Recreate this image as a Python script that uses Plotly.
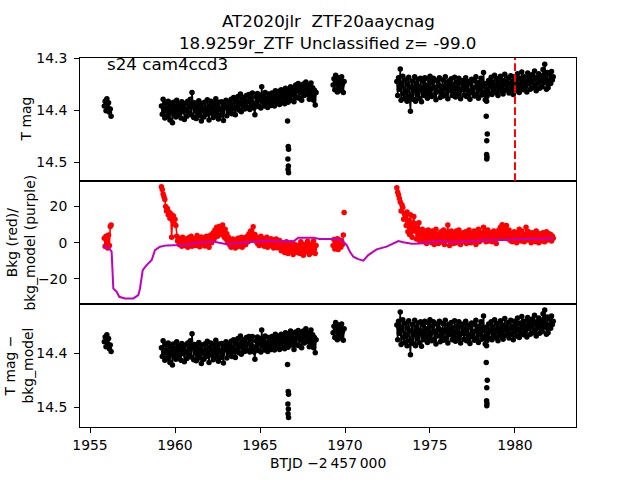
import numpy as np
import plotly.graph_objects as go
from plotly.subplots import make_subplots

# ---------------- data ----------------
CADENCE = 0.05                                   # days between samples
SEG_START = [1955.84, 1959.20, 1969.30, 1973.05]  # BTJD-2457000 start of each data segment

# Panel 1: T mag
TMAG_S0 = [14.392, 14.383, 14.401, 14.378, 14.395, 14.386, 14.404, 14.398, 14.412]
TMAG_S1 = [
    14.392, 14.408, 14.379, 14.401, 14.415, 14.386, 14.396, 14.412, 14.383, 14.404,
    14.419, 14.390, 14.399, 14.424, 14.385, 14.407, 14.393, 14.413, 14.381, 14.402,
    14.410, 14.388, 14.397, 14.415, 14.384, 14.403, 14.391, 14.418, 14.387, 14.400,
    14.412, 14.383, 14.405, 14.394, 14.379, 14.409, 14.366, 14.390, 14.414, 14.386,
    14.398, 14.416, 14.389, 14.404, 14.382, 14.411, 14.395, 14.421, 14.387, 14.400,
    14.413, 14.385, 14.396, 14.408, 14.380, 14.402, 14.419, 14.391, 14.383, 14.406,
    14.395, 14.414, 14.386, 14.401, 14.378, 14.409, 14.393, 14.417, 14.385, 14.398,
    14.410, 14.384, 14.403, 14.420, 14.389, 14.396, 14.381, 14.411, 14.392, 14.405,
    14.384, 14.401, 14.379, 14.407, 14.390, 14.376, 14.398, 14.409, 14.383, 14.395,
    14.374, 14.400, 14.387, 14.369, 14.403, 14.381, 14.392, 14.376, 14.398, 14.385,
    14.372, 14.395, 14.383, 14.370, 14.399, 14.378, 14.390, 14.367, 14.386, 14.396,
    14.409, 14.375, 14.389, 14.368, 14.393, 14.380, 14.371, 14.396, 14.355, 14.384,
    14.373, 14.392, 14.366, 14.385, 14.378, 14.395, 14.369, 14.388, 14.375, 14.391,
    14.367, 14.383, 14.374, 14.392, 14.363, 14.386, 14.371, 14.380, 14.364, 14.389,
    14.370, 14.361, 14.384, 14.373, 14.366, 14.388, 14.358, 14.379, 14.369, 14.385,
    14.362, 14.378, 14.355, 14.381, 14.368, 14.359, 14.384, 14.365, 14.352, 14.376,
    14.360, 14.349, 14.377, 14.363, 14.354, 14.381, 14.367, 14.350, 14.372, 14.358,
    14.346, 14.370, 14.361, 14.353, 14.379, 14.364, 14.348, 14.373, 14.357, 14.381,
    14.362, 14.390, 14.366]
TMAG_S2 = [14.352, 14.340, 14.361, 14.333, 14.347, 14.365, 14.338, 14.355, 14.344, 14.362,
           14.336, 14.350, 14.366, 14.345]
TMAG_S3 = [
    14.345, 14.372, 14.338, 14.360, 14.321, 14.381, 14.350, 14.335, 14.368, 14.377,
    14.342, 14.365, 14.383, 14.351, 14.337, 14.374, 14.402, 14.356, 14.344, 14.379,
    14.362, 14.336, 14.383, 14.349, 14.370, 14.341, 14.377, 14.355, 14.339, 14.384,
    14.358, 14.345, 14.372, 14.338, 14.366, 14.352, 14.377, 14.341, 14.369, 14.335,
    14.360, 14.374, 14.347, 14.339, 14.371, 14.356, 14.380, 14.343, 14.365, 14.351,
    14.338, 14.376, 14.354, 14.367, 14.342, 14.373, 14.358, 14.336, 14.369, 14.349,
    14.378, 14.344, 14.363, 14.355, 14.340, 14.372, 14.350, 14.367, 14.337, 14.375,
    14.357, 14.346, 14.370, 14.339, 14.364, 14.378, 14.348, 14.360, 14.343, 14.371,
    14.353, 14.338, 14.374, 14.362, 14.345, 14.368, 14.379, 14.350, 14.341, 14.366,
    14.357, 14.373, 14.344, 14.336, 14.369, 14.352, 14.377, 14.347, 14.362, 14.339,
    14.371, 14.355, 14.328, 14.366, 14.380, 14.349, 14.374, 14.360, 14.343, 14.368,
    14.352, 14.337, 14.370, 14.346, 14.361, 14.333, 14.366, 14.355, 14.340, 14.372,
    14.348, 14.359, 14.335, 14.364, 14.343, 14.369, 14.351, 14.331, 14.362, 14.346,
    14.357, 14.338, 14.367, 14.349, 14.334, 14.360, 14.345, 14.370, 14.336, 14.355,
    14.342, 14.363, 14.330, 14.352, 14.366, 14.339, 14.357, 14.327, 14.348, 14.361,
    14.336, 14.354, 14.344, 14.365, 14.329, 14.350, 14.338, 14.360, 14.346, 14.332,
    14.357, 14.341, 14.325, 14.352, 14.363, 14.337, 14.348, 14.330, 14.358, 14.343,
    14.334, 14.355, 14.322, 14.347, 14.312, 14.339, 14.360, 14.328, 14.357, 14.344,
    14.331, 14.349, 14.326, 14.342, 14.336]

# Panel 2: background flux (red points)
BKG_S0 = [2.5, -2.0, 3.5, 0.5, -3.0, 4.2, -1.5, 9.0, 9.8]
BKG_S1 = [
    31.0, 29.5, 27.0, 25.5, 24.0, 20.0, 17.5, 19.0, 15.5, 17.0,
    13.5, 16.0, 3.0, 12.5, 15.0, 10.5, 13.0, 9.5, 3.5, 1.0,
    1.5, -1.0, 2.5, 0.0, -2.0, 3.0, 0.5, -1.5, 2.0, -0.5,
    1.0, -2.5, 2.8, 0.5, -1.0, 3.5, -2.0, 1.2, 0.0, 2.2,
    -1.5, 1.8, 4.0, -0.5, 2.5, -2.2, 1.0, 3.2, -1.0, 0.8,
    2.6, -1.8, 0.5, 3.5, -0.8, 1.5, -2.5, 2.0, 4.2, 0.0,
    3.0, 5.5, 2.0, 7.0, 4.0, 8.5, 3.5, 6.5, 9.0, 5.0,
    8.0, 4.5, 9.8, 6.0, 3.0, 7.5, 2.0, 5.0, 0.5, 3.0,
    -1.0, 1.5, -2.5, 0.0, 2.0, -1.5, 0.8, -3.0, 1.2, -0.5,
    2.5, -2.0, 0.5, -1.0, 3.0, -2.5, 1.5, 0.0, 2.8, -1.2,
    1.0, 3.5, 0.5, 5.0, 2.0, 6.5, 1.5, 4.0, 8.9, 2.5,
    4.5, 1.0, 3.0, -0.5, 2.0, -1.5, 1.0, 3.5, -1.0, 0.5,
    2.5, -2.0, 1.0, -0.8, 3.0, -2.5, 0.0, 1.8, -1.5, 2.2,
    -0.5, 1.5, -3.0, 0.8, -1.5, 2.0, -2.8, 0.5, -1.0, 1.2,
    -2.5, -4.5, 0.0, -3.5, -1.0, -5.5, -2.0, 0.5, -4.0, -6.0,
    -1.5, -3.0, -5.0, 0.0, -2.5, -6.5, -3.5, -1.0, -4.5, -2.0,
    -5.5, -1.5, -3.0, -6.0, 0.5, -4.0, -2.5, -7.0, -1.0, -3.5,
    -5.0, -2.0, 0.8, -4.5, -6.5, -3.0, -1.0, -5.5, -2.5, 1.0,
    -3.5, -6.0, -1.5]
BKG_S2 = [-1.5, 1.8, -3.5, 0.5, -2.0, 2.2, -3.8, 0.0, 1.5, -2.5, 0.8, -1.0, 4.3]
BKG_S3 = [
    30.5, 28.0, 26.5, 24.5, 22.5, 17.5, 21.0, 19.5, 13.0, 16.0,
    15.0, 9.5, 17.0, 6.0, 12.5, 4.5, 15.5, 8.0, 3.0, 11.0,
    14.5, 6.5, 10.5, 2.0, 8.0, 4.5, 11.0, 1.0, 6.0, 3.5,
    7.5, 0.5, 5.0, 2.5, 6.5, -0.5, 4.0, 7.0, 1.5, 3.0,
    5.5, 0.0, 6.5, 2.0, -1.0, 4.5, 7.5, 1.0, 3.5, -0.5,
    5.0, 2.5, 6.0, 0.5, 3.0, 7.0, -1.0, 4.0, 1.5, 5.5,
    9.8, 2.0, -1.5, 4.5, 6.5, 0.5, 3.0, -0.5, 5.0, 2.0,
    6.5, 0.0, 3.5, 7.0, 1.5, -1.0, 4.5, 2.5, 5.5, 0.5,
    3.0, 6.0, -0.5, 4.0, 1.5, 7.0, 2.5, 0.0, 5.0, 3.5,
    1.0, 6.5, 3.0, -1.0, 4.5, 2.0, 7.5, 0.5, 3.5, 5.5,
    1.5, 4.0, 8.5, 2.5, 6.0, 0.5, 3.0, 7.0, 1.0, 4.5,
    2.0, 5.5, 0.5, 3.5, 6.5, 1.5, 4.0, -0.5, 5.0, 2.5,
    7.0, 3.0, 8.5, 4.5, 10.0, 6.0, 2.5, 8.0, 4.0, 9.5,
    5.5, 2.0, 7.0, 3.5, 1.0, 5.0, 0.5, 3.0, 6.0, 1.5,
    4.0, 0.0, 5.5, 2.0, 7.5, 3.0, 1.0, 6.5, 2.5, 4.5,
    0.5, 3.5, 8.5, 5.0, 1.5, 6.0, 2.0, 4.0, 0.0, 3.0,
    5.5, 1.5, 4.0, 0.5, 6.5, 2.5, 3.5, 0.0, 5.0, 2.0,
    4.5, 1.0, 5.5, 2.5, 0.5, 4.0, 6.0, 1.5, 3.0, 5.0,
    2.0, 4.5, 1.0, 3.5, 2.5]
BKG_OUT_T = [1969.95]          # isolated background outlier
BKG_OUT_V = [16.7]

# Panel 2: background model (purple line)
MODEL_T = [1955.75, 1956.10, 1956.27, 1956.37, 1956.57, 1956.72, 1957.06, 1957.55, 1957.84, 1957.94,
           1958.10, 1958.33, 1958.63, 1958.82, 1959.12, 1959.51, 1960.30, 1960.80, 1961.27, 1961.80,
           1962.25, 1962.60, 1963.04, 1963.50, 1964.20, 1964.70, 1965.20, 1965.70, 1966.20, 1966.60,
           1966.96, 1967.25, 1968.14, 1968.50, 1969.41, 1969.80, 1970.10, 1970.29, 1970.49, 1970.78,
           1971.08, 1971.37, 1971.86, 1972.45, 1973.14, 1973.43, 1973.92, 1974.41, 1975.40, 1976.37,
           1977.35, 1978.33, 1979.30, 1980.30, 1981.27, 1982.26]
MODEL_V = [-2.5, -2.8, -5.0, -25.4, -27.2, -30.0, -30.9, -30.9, -29.1, -25.4,
           -15.2, -12.4, -9.6, -4.1, -2.2, -1.5, -1.3, -1.0, 0.0, 0.3,
           0.6, 0.0, -0.9, -0.5, 0.2, 0.8, 1.1, 1.0, 0.6, 0.9,
           0.6, 2.8, 2.8, 2.0, 2.0, 1.5, -1.3, -5.0, -7.8, -9.1,
           -10.0, -6.9, -3.7, -2.2, 0.9, 0.2, -0.6, -0.4, 0.9, 0.2,
           0.9, 1.5, 1.5, 2.0, 2.0, 2.4]

# Panel 3: T mag - bkg_model
CORR_S0 = [14.379, 14.370, 14.388, 14.366, 14.383, 14.373, 14.392, 14.385, 14.397]
CORR_S1 = [
    14.390, 14.406, 14.377, 14.399, 14.413, 14.384, 14.394, 14.410, 14.381, 14.402,
    14.417, 14.388, 14.397, 14.422, 14.383, 14.405, 14.391, 14.411, 14.379, 14.400,
    14.408, 14.386, 14.395, 14.413, 14.382, 14.401, 14.389, 14.416, 14.385, 14.398,
    14.410, 14.381, 14.403, 14.392, 14.377, 14.407, 14.364, 14.388, 14.412, 14.384,
    14.396, 14.414, 14.387, 14.402, 14.380, 14.409, 14.393, 14.419, 14.385, 14.398,
    14.411, 14.383, 14.394, 14.406, 14.378, 14.400, 14.417, 14.389, 14.381, 14.404,
    14.393, 14.412, 14.384, 14.399, 14.376, 14.407, 14.391, 14.415, 14.383, 14.396,
    14.408, 14.382, 14.401, 14.418, 14.387, 14.394, 14.379, 14.409, 14.390, 14.403,
    14.383, 14.400, 14.378, 14.406, 14.389, 14.375, 14.397, 14.408, 14.382, 14.394,
    14.373, 14.399, 14.386, 14.368, 14.402, 14.380, 14.391, 14.375, 14.397, 14.384,
    14.371, 14.394, 14.382, 14.369, 14.398, 14.377, 14.392, 14.369, 14.388, 14.398,
    14.411, 14.377, 14.391, 14.370, 14.395, 14.382, 14.373, 14.398, 14.357, 14.386,
    14.375, 14.394, 14.368, 14.387, 14.380, 14.397, 14.371, 14.390, 14.377, 14.393,
    14.369, 14.385, 14.376, 14.394, 14.365, 14.388, 14.373, 14.382, 14.368, 14.393,
    14.374, 14.365, 14.388, 14.377, 14.370, 14.392, 14.362, 14.383, 14.373, 14.389,
    14.366, 14.382, 14.359, 14.385, 14.372, 14.363, 14.393, 14.374, 14.361, 14.385,
    14.369, 14.358, 14.386, 14.372, 14.363, 14.390, 14.376, 14.359, 14.381, 14.367,
    14.355, 14.379, 14.370, 14.362, 14.388, 14.373, 14.357, 14.382, 14.366, 14.390,
    14.371, 14.399, 14.375]
CORR_S2 = [14.362, 14.350, 14.371, 14.343, 14.357, 14.375, 14.348, 14.365, 14.354, 14.372,
           14.346, 14.360, 14.376, 14.355]
CORR_S3 = [
    14.348, 14.375, 14.341, 14.363, 14.324, 14.384, 14.353, 14.338, 14.371, 14.380,
    14.345, 14.368, 14.386, 14.354, 14.340, 14.377, 14.403, 14.359, 14.347, 14.382,
    14.365, 14.339, 14.386, 14.352, 14.373, 14.344, 14.380, 14.358, 14.342, 14.387,
    14.361, 14.348, 14.375, 14.341, 14.369, 14.355, 14.380, 14.344, 14.372, 14.338,
    14.363, 14.377, 14.350, 14.342, 14.374, 14.359, 14.383, 14.346, 14.368, 14.354,
    14.341, 14.379, 14.357, 14.370, 14.345, 14.376, 14.361, 14.339, 14.372, 14.352,
    14.381, 14.347, 14.366, 14.358, 14.343, 14.375, 14.353, 14.370, 14.340, 14.378,
    14.360, 14.349, 14.373, 14.342, 14.367, 14.381, 14.351, 14.363, 14.346, 14.374,
    14.356, 14.341, 14.377, 14.365, 14.348, 14.371, 14.382, 14.353, 14.344, 14.369,
    14.360, 14.376, 14.347, 14.339, 14.372, 14.355, 14.380, 14.350, 14.365, 14.342,
    14.374, 14.358, 14.331, 14.369, 14.383, 14.352, 14.377, 14.363, 14.346, 14.373,
    14.357, 14.342, 14.375, 14.351, 14.366, 14.338, 14.371, 14.360, 14.345, 14.377,
    14.353, 14.364, 14.340, 14.369, 14.348, 14.374, 14.356, 14.336, 14.367, 14.351,
    14.362, 14.343, 14.372, 14.354, 14.339, 14.365, 14.350, 14.375, 14.341, 14.360,
    14.347, 14.368, 14.335, 14.357, 14.371, 14.344, 14.362, 14.332, 14.353, 14.366,
    14.341, 14.359, 14.349, 14.370, 14.334, 14.355, 14.343, 14.365, 14.351, 14.337,
    14.362, 14.346, 14.330, 14.357, 14.368, 14.342, 14.353, 14.335, 14.363, 14.348,
    14.339, 14.360, 14.327, 14.352, 14.320, 14.344, 14.365, 14.333, 14.362, 14.349,
    14.336, 14.354, 14.331, 14.347, 14.341]

# Eclipse-like dips (extra points below the band)
DIP1_T = [1966.62, 1966.66, 1966.68, 1966.64, 1966.67, 1966.65, 1966.68]
DIP1_TMAG = [14.421, 14.470, 14.475, 14.494, 14.507, 14.514, 14.520]
DIP1_CORR = [14.421, 14.471, 14.476, 14.494, 14.503, 14.512, 14.519]
DIP2_T = [1978.33, 1978.31, 1978.37, 1978.34, 1978.33, 1978.35, 1978.34]
DIP2_TMAG = [14.383, 14.412, 14.446, 14.459, 14.485, 14.490, 14.494]
DIP2_CORR = [14.386, 14.417, 14.450, 14.464, 14.488, 14.493, 14.497]

DISCOVERY_T = 1980.0
TITLE_1 = "AT2020jlr  ZTF20aaycnag"
TITLE_2 = "18.9259r_ZTF Unclassified z= -99.0"
SECTOR_TEXT = "s24 cam4ccd3"
X_TICKS = [1955, 1960, 1965, 1970, 1975, 1980]
Y1_TICKS = [14.3, 14.4, 14.5]
Y2_TICKS = [-20, 0, 20]
Y2_TICKTEXT = ["\u221220", "0", "20"]
Y3_TICKS = [14.4, 14.5]


def build(segments):
    """Times on the regular cadence of each segment; None breaks between segments."""
    ts, vs = [], []
    for start, vals in zip(SEG_START, segments):
        ts.extend(np.round(start + CADENCE * np.arange(len(vals)), 3).tolist())
        vs.extend(vals)
        ts.append(None)
        vs.append(None)
    return ts, vs


t_top, v_top = build([TMAG_S0, TMAG_S1, TMAG_S2, TMAG_S3])
t_bkg, v_bkg = build([BKG_S0, BKG_S1, BKG_S2, BKG_S3])
t_cor, v_cor = build([CORR_S0, CORR_S1, CORR_S2, CORR_S3])

# ---------------- figure ----------------
FONT = "DejaVu Sans"
TICK_PX = 13.9
TITLE_PX = 16.7
MS = 5.5
FILL_W = 1.6

fig = make_subplots(rows=3, cols=1, shared_xaxes=True, vertical_spacing=0)


def dense(x, y, color, row):
    fig.add_trace(go.Scatter(x=x, y=y, mode="lines+markers", connectgaps=False,
                             line=dict(color=color, width=FILL_W),
                             marker=dict(color=color, size=MS, line=dict(width=0))),
                  row=row, col=1)


def dots(x, y, color, row):
    fig.add_trace(go.Scatter(x=x, y=y, mode="markers",
                             marker=dict(color=color, size=MS, line=dict(width=0))),
                  row=row, col=1)


dense(t_top, v_top, "black", 1)
dots(DIP1_T + DIP2_T, DIP1_TMAG + DIP2_TMAG, "black", 1)
dense(t_bkg, v_bkg, "#ff0000", 2)
dots(BKG_OUT_T, BKG_OUT_V, "#ff0000", 2)
fig.add_trace(go.Scatter(x=MODEL_T, y=MODEL_V, mode="lines",
                         line=dict(color="#bf00bf", width=2.0)), row=2, col=1)
dense(t_cor, v_cor, "black", 3)
dots(DIP1_T + DIP2_T, DIP1_CORR + DIP2_CORR, "black", 3)

fig.add_shape(type="line", x0=DISCOVERY_T, x1=DISCOVERY_T, xref="x", yref="y domain",
              y0=0, y1=1, line=dict(color="#ff0000", width=2.0, dash="7.7px,3.3px"),
              layer="above")

axis_common = dict(showgrid=False, zeroline=False, showline=True, mirror=True,
                   linecolor="black", linewidth=1.1,
                   tickfont=dict(family=FONT, size=TICK_PX, color="black"),
                   tickcolor="black", ticklen=4.9, tickwidth=1.1)

XR = [1954.41, 1983.59]
for i in (1, 2, 3):
    fig.update_xaxes(range=XR, row=i, col=1, **axis_common)
fig.update_xaxes(showticklabels=False, ticks="", row=1, col=1)
fig.update_xaxes(showticklabels=False, ticks="", row=2, col=1)
fig.update_xaxes(ticks="outside", tickvals=X_TICKS, ticktext=[str(v) for v in X_TICKS],
                 row=3, col=1)

fig.update_yaxes(range=[14.536, 14.300], tickvals=Y1_TICKS, ticktext=["14.3", "14.4", "14.5"],
                 ticks="outside", ticklabelstandoff=4, row=1, col=1, **axis_common)
fig.update_yaxes(range=[-34.0, 34.2], tickvals=Y2_TICKS, ticktext=Y2_TICKTEXT,
                 ticks="outside", ticklabelstandoff=4, row=2, col=1, **axis_common)
fig.update_yaxes(range=[14.5365, 14.309], tickvals=Y3_TICKS, ticktext=["14.4", "14.5"],
                 ticks="outside", ticklabelstandoff=4, row=3, col=1, **axis_common)

L_M, T_M = 80, 58
PLOT_W = 496.0
PLOT_H = 369.0
R_M = 640 - L_M - int(PLOT_W)
B_M = 480 - T_M - int(PLOT_H)


def px_x(px):
    return (px - L_M) / PLOT_W


def px_y(py):
    return 1 - (py - T_M) / PLOT_H


ann = []
ann.append(dict(text=TITLE_1, x=0.5, y=px_y(21), xref="paper", yref="paper",
                xanchor="center", yanchor="middle", showarrow=False,
                font=dict(family=FONT, size=TITLE_PX, color="black")))
ann.append(dict(text=TITLE_2, x=0.5, y=px_y(43), xref="paper", yref="paper",
                xanchor="center", yanchor="middle", showarrow=False,
                font=dict(family=FONT, size=TITLE_PX, color="black")))
ann.append(dict(text=SECTOR_TEXT, x=0.05, y=0.95, xref="x domain", yref="y domain",
                xanchor="left", yanchor="middle", showarrow=False,
                font=dict(family=FONT, size=TITLE_PX, color="black")))
ann.append(dict(text="T mag", x=px_x(26), y=5 / 6, xref="paper", yref="paper",
                xanchor="center", yanchor="middle", textangle=-90, showarrow=False,
                font=dict(family=FONT, size=TICK_PX, color="black")))
ann.append(dict(text="Bkg (red)/<br>bkg_model (purple)", x=px_x(20), y=0.5,
                xref="paper", yref="paper", xanchor="center", yanchor="middle",
                textangle=-90, showarrow=False,
                font=dict(family=FONT, size=TICK_PX, color="black")))
ann.append(dict(text="T mag \u2212<br>bkg_model", x=px_x(18), y=1 / 6,
                xref="paper", yref="paper", xanchor="center", yanchor="middle",
                textangle=-90, showarrow=False,
                font=dict(family=FONT, size=TICK_PX, color="black")))
ann.append(dict(text="BTJD \u22122\u2009457\u2009000", x=0.5, y=px_y(463),
                xref="paper", yref="paper", xanchor="center", yanchor="middle",
                showarrow=False, font=dict(family=FONT, size=TICK_PX, color="black")))

fig.update_layout(width=640, height=480, showlegend=False,
                  margin=dict(l=L_M, r=R_M, t=T_M, b=B_M, pad=0, autoexpand=False),
                  paper_bgcolor="white", plot_bgcolor="white",
                  font=dict(family=FONT, color="black"),
                  annotations=ann)

# remove the browser's default 8 px page margin so the 640x480 figure fills the window
fig.write_html("out.html",
               config={"displayModeBar": False},
               post_script="document.body.style.margin='0px';document.body.style.overflow='hidden';")
